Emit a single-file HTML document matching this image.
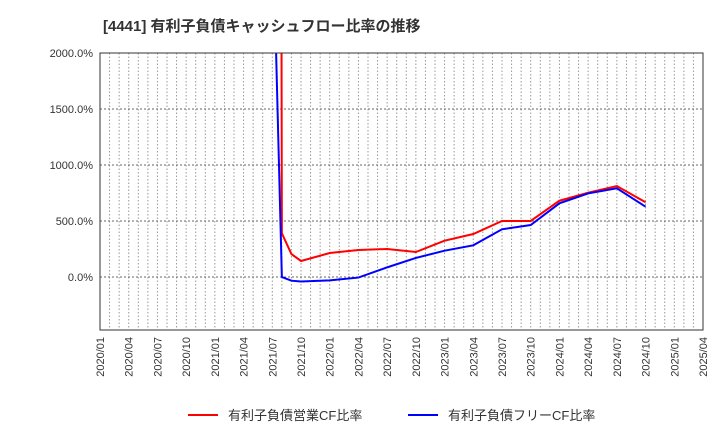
<!DOCTYPE html>
<html><head><meta charset="utf-8"><style>
body{margin:0;background:#fff;font-family:"Liberation Sans","Noto Sans CJK JP",sans-serif;}
</style></head><body>
<svg width="720" height="440" xmlns="http://www.w3.org/2000/svg" font-family="Liberation Sans, Noto Sans CJK JP, sans-serif">
<text x="103" y="31" font-size="15" font-weight="bold" fill="#333">[4441]  有利子負債キャッシュフロー比率の推移</text>
<defs><clipPath id="c"><rect x="100" y="53" width="603" height="277"/></clipPath></defs>
<g id="grid"></g><g id="axes"></g>
<g clip-path="url(#c)" id="series"></g>
<rect x="100" y="53" width="603" height="277" fill="none" stroke="#333" stroke-width="1"/>
<g>
<line x1="188" y1="415" x2="218" y2="415" stroke="#f00" stroke-width="2"/>
<text x="228" y="420" font-size="13" fill="#333">有利子負債営業CF比率</text>
<line x1="408" y1="415" x2="438" y2="415" stroke="#00f" stroke-width="2"/>
<text x="448" y="420" font-size="13" fill="#333">有利子負債フリーCF比率</text>
</g>
</svg>
<script>
const yTicks=[0,500,1000,1500,2000];
const xTickLabels=["2020/01","2020/04","2020/07","2020/10","2021/01","2021/04","2021/07","2021/10","2022/01","2022/04","2022/07","2022/10","2023/01","2023/04","2023/07","2023/10","2024/01","2024/04","2024/07","2024/10","2025/01","2025/04"];
const redMonths=[18,19,20,21,24,27,30,33,36,39,42,45,48,51,54,57];
const redValues=[50000,390,205,143,214,241,250,223,324,384,500,500,681,753,812,667];
const blueMonths=[18,19,20,21,24,27,30,33,36,39,42,45,48,51,54,57];
const blueValues=[3330,0,-33,-40,-30,-5,86,170,235,283,426,464,658,746,792,628];
const NS="http://www.w3.org/2000/svg";
function X(m){return 100+m*603/63;}
function Y(v){return 277-v*56/500;}
const grid=document.getElementById('grid'),axes=document.getElementById('axes'),ser=document.getElementById('series');
for(let m=1;m<63;m++){const l=document.createElementNS(NS,'line');


l.setAttribute('x1',X(m));l.setAttribute('x2',X(m));l.setAttribute('y1',53);l.setAttribute('y2',330);
l.setAttribute('stroke','#999');l.setAttribute('stroke-dasharray','1.5,2');grid.appendChild(l);}
yTicks.forEach(v=>{const l=document.createElementNS(NS,'line');


l.setAttribute('x1',100);l.setAttribute('x2',703);l.setAttribute('y1',Y(v));l.setAttribute('y2',Y(v));
l.setAttribute('stroke','#666');l.setAttribute('stroke-dasharray','2,2');grid.appendChild(l);
const t=document.createElementNS(NS,'text');


t.setAttribute('x',93);t.setAttribute('y',Y(v)+4);t.setAttribute('text-anchor','end');t.setAttribute('font-size','11');t.setAttribute('fill','#333');
t.textContent=v.toFixed(1)+'%';axes.appendChild(t);});
xTickLabels.forEach((s,i)=>{const t=document.createElementNS(NS,'text');


const x=X(i*3)+4;t.setAttribute('transform','translate('+x+',337) rotate(-90)');t.setAttribute('text-anchor','end');t.setAttribute('font-size','11');t.setAttribute('fill','#333');
t.textContent=s;axes.appendChild(t);});
function line(ms,vs,c,name){const p=document.createElementNS(NS,'polyline');


p.setAttribute('points',ms.map((m,i)=>X(m)+','+Y(vs[i])).join(' '));
p.setAttribute('fill','none');p.setAttribute('stroke',c);p.setAttribute('stroke-width','2');ser.appendChild(p);}
line(redMonths,redValues,'#f00','operating-cf-ratio-line');
line(blueMonths,blueValues,'#00f','free-cf-ratio-line');
</script>
</body></html>
